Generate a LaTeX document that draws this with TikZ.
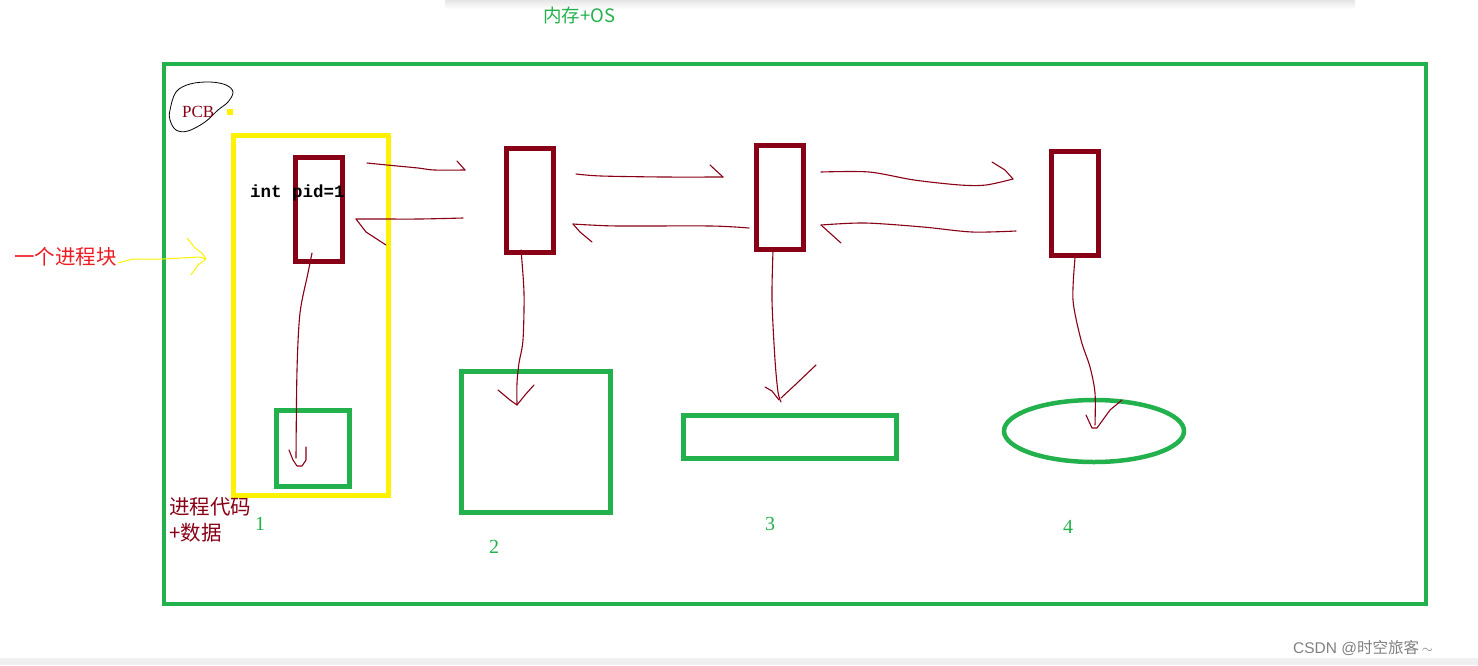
\documentclass[tikz,border=0pt]{standalone}
\usepackage{fontspec}
\setmainfont{Liberation Serif}
\setsansfont{Liberation Sans}
\setmonofont{Liberation Mono}
\newfontfamily\cjk{Noto Sans CJK SC}
\usetikzlibrary{shapes.geometric}
\definecolor{pgreen}{HTML}{22B14C}
\definecolor{pdred}{HTML}{880015}
\definecolor{pyellow}{HTML}{FFF200}
\definecolor{pred}{HTML}{ED1C24}
\tikzset{
  pcbbox/.style={draw=pdred, line width=5pt, inner sep=0pt, minimum width=47pt, minimum height=104pt},
  membox/.style={draw=pgreen, line width=5pt, inner sep=0pt},
  hand/.style={draw=pdred, line width=1.1pt, line cap=round, line join=round},
  lbl/.style={inner sep=0pt, anchor=base west},
  num/.style={inner sep=0pt, anchor=base, text=pgreen, font=\fontsize{20}{20}\selectfont},
}
\begin{document}
\begin{tikzpicture}[x=1pt,y=-1pt]
\useasboundingbox (0,0) rectangle (1478,665);
% page chrome
\shade[top color=black!10, bottom color=white] (445,0) rectangle (1355,9);
\fill[black!6] (0,658) rectangle (1478,665);
\node[lbl, text=gray, font=\sffamily\fontsize{15.5}{15.5}\selectfont] (wm) at (1293,653) {CSDN @{\cjk 时空旅客}\,$\sim$};

% title
\node[lbl, text=pgreen, font=\cjk\fontsize{18.5}{18.5}\selectfont] (title) at (543,22) {内存+OS};

% outer memory frame
\node[draw=pgreen, line width=4.5pt, inner sep=0pt, minimum width=1262pt, minimum height=540pt] (mem) at (795,334) {};

% PCB label with blob
\draw[black, line width=0.8pt] plot[smooth cycle, tension=0.6] coordinates {(170,110) (176,92) (190,84) (210,82) (226,85) (233,92) (228,102) (218,110) (205,122) (188,131) (176,130) (170,120)};
\node[lbl, text=pdred, font=\fontsize{17}{17}\selectfont] (pcb) at (182,117) {PCB};
\fill[pyellow] (227,109) rectangle (233,115);

% yellow process block
\node[draw=pyellow, line width=5pt, inner sep=0pt, minimum width=155pt, minimum height=360pt] (proc) at (311,315.5) {};

% PCB boxes
\node[pcbbox] (r1) at (319,209.5) {};
\node[pcbbox] (r2) at (530,200.5) {};
\node[pcbbox] (r3) at (780,197) {};
\node[pcbbox] (r4) at (1075,203.5) {};
\node[lbl, font=\ttfamily\bfseries\fontsize{17.5}{17.5}\selectfont] (pid) at (250,197) {int pid=1};

% memory regions
\node[membox, minimum width=73pt, minimum height=76pt] (m1) at (313,448.5) {};
\node[membox, minimum width=149pt, minimum height=141pt] (m2) at (536,442) {};
\node[membox, minimum width=213pt, minimum height=43pt] (m3) at (790,437) {};
\node[draw=pgreen, line width=4.5pt, ellipse, inner sep=0pt, minimum width=180pt, minimum height=62pt] (m4) at (1094,431) {};

% numbers
\node[num] (n1) at (260,530) {1};
\node[num] (n2) at (494,553) {2};
\node[num] (n3) at (770,530) {3};
\node[num] (n4) at (1068,533) {4};

% code + data label
\node[lbl, text=pdred, font=\cjk\fontsize{20.5}{20.5}\selectfont] (code) at (169,514) {进程代码};
\node[lbl, text=pdred, font=\cjk\fontsize{20.5}{20.5}\selectfont] (data) at (169,540) {+数据};

% "one process block" label with yellow arrow
\node[lbl, text=pred, font=\cjk\fontsize{20.5}{20.5}\selectfont] (blk) at (14,264) {一个进程块};
\coordinate (ytip) at (206,259);
\draw[pyellow, line width=1pt, line join=round] (blk.base east) ++(1,-1) -- (133,259) -- (163,259) -- (200,257) -- (ytip);
\draw[pyellow, line width=1pt, line join=round] (187,238) -- (195,248) -- (202,253) -- (ytip) -- (198,265) -- (191,275);

% linked-list arrows (hand drawn)
\draw[hand] plot[smooth] coordinates {(367,163) (387,165) (418,168) (434,170) (465,170)};
\draw[hand] (457,161) -- (465,170);
\draw[hand] plot[smooth] coordinates {(463,218) (420,219) (380,219) (356,219)};
\draw[hand] (356,219) -- (366,232) -- (386,245);

\draw[hand] plot[smooth] coordinates {(576,174) (601,176) (663,177) (723,177)};
\draw[hand] (710,165) -- (723,177);
\draw[hand] plot[smooth] coordinates {(749,228) (711,226) (620,226) (590,225) (573,224)};
\draw[hand] (573,224) -- (580,232) -- (592,242);

\draw[hand] plot[smooth] coordinates {(821,172) (869,172) (914,180) (960,185) (986,185) (1013,179)};
\draw[hand] (992,162) -- (1005,170) -- (1013,179);
\draw[hand] plot[smooth] coordinates {(1016,231) (972,232) (923,227) (865,223) (821,225)};
\draw[hand] (821,225) -- (841,243);

% arrows from PCB to memory
\draw[hand] plot[smooth] coordinates {(312,253) (308,273) (300,313) (297,370) (296,458)};
\draw[hand] (289,450) -- (293,460) -- (297,466) -- (302,466) -- (306,460) -- (306,447);

\draw[hand] plot[smooth] coordinates {(521,250) (524,293) (523,340) (519,363) (517,383) (517,405)};
\draw[hand] (498,390) -- (510,400) -- (517,405) -- (525,395) -- (534,385);

\draw[hand] plot[smooth] coordinates {(773,251) (772,300) (775,360) (778,392) (781,402)};
\draw[hand] (765,387) -- (772,391) -- (779,400);
\draw[hand] (781,398) -- (795,385) -- (816,365);

\draw[hand] plot[smooth] coordinates {(1075,258) (1073,300) (1081,340) (1090,367) (1095,393) (1095,425)};
\draw[hand] (1086,415) -- (1092,428) -- (1097,428) -- (1110,410) -- (1122,400);
\end{tikzpicture}
\end{document}
